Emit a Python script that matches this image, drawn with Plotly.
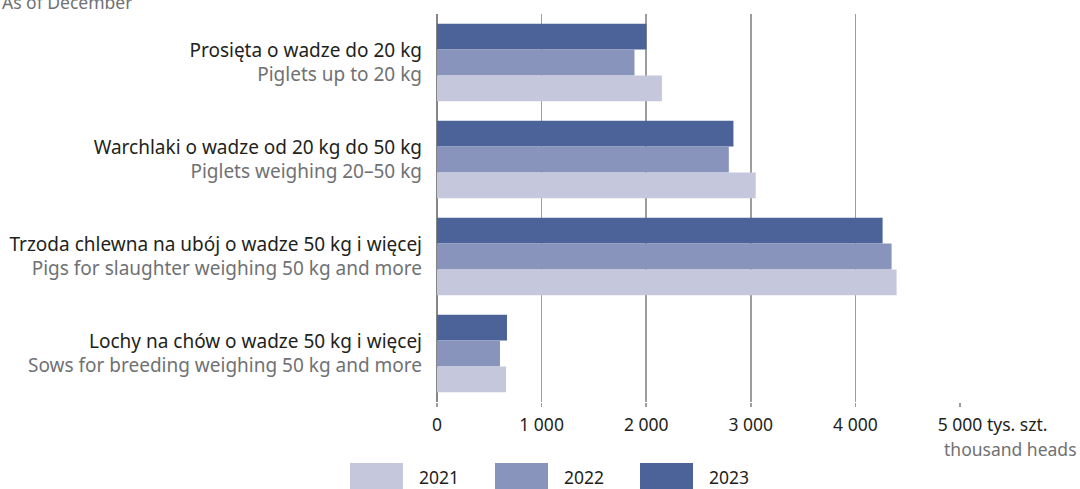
import plotly.graph_objects as go

categories_pl = ["Prosięta o wadze do 20 kg",
                 "Warchlaki o wadze od 20 kg do 50 kg",
                 "Trzoda chlewna na ubój o wadze 50 kg i więcej",
                 "Lochy na chów o wadze 50 kg i więcej"]
categories_en = ["Piglets up to 20 kg",
                 "Piglets weighing 20–50 kg",
                 "Pigs for slaughter weighing 50 kg and more",
                 "Sows for breeding weighing 50 kg and more"]
years = ["2021", "2022", "2023"]
values_2021 = [2150, 3047, 4394, 660]
values_2022 = [1888, 2790, 4346, 602]
values_2023 = [2003, 2834, 4260, 669]
tick_vals = [0, 1000, 2000, 3000, 4000, 5000]
tick_text = ["0", "1 000", "2 000", "3 000", "4 000", "5 000"]

colors = {"2021": "#C5C8DD", "2022": "#8894BC", "2023": "#4B6399"}
series = {"2021": values_2021, "2022": values_2022, "2023": values_2023}

W, H = 1080, 489
L, R, T, B = 437, 120, 14, 87
pw, ph = W - L - R, H - T - B
def px(x):
    return (x - L) / pw
def py(y):
    return (H - B - y) / ph

FONT = "Noto Sans"
GRAY = "#707174"
BLACK = "#231F20"

labels = [f"{p}<br><span style='color:{GRAY}'>{e}</span>" for p, e in zip(categories_pl, categories_en)]

fig = go.Figure()
for yr in ["2023", "2022", "2021"]:
    fig.add_trace(go.Bar(y=labels, x=series[yr], orientation="h", name=yr,
                         marker=dict(color=colors[yr], line=dict(width=0)),
                         showlegend=False))

fig.update_layout(
    width=W, height=H, margin=dict(l=L, r=R, t=T, b=B, autoexpand=False),
    paper_bgcolor="white", plot_bgcolor="white",
    barmode="group", bargap=0.2, bargroupgap=0,
    font=dict(family=FONT, size=17, color=BLACK),
    xaxis=dict(range=[0, 5000], tickvals=tick_vals, ticktext=tick_text,
               showgrid=True, gridcolor="#9D9D9D", gridwidth=1.5,
               zeroline=True, zerolinecolor="#858585", zerolinewidth=2.5,
               ticks="outside", ticklen=4, tickcolor="#9D9D9D", tickwidth=1.5,
               ticklabelstandoff=3, tickfont=dict(size=17.5, color=BLACK),
               showline=False, fixedrange=True, automargin=False),
    yaxis=dict(autorange="reversed", showgrid=False, ticks="",
               ticklabelstandoff=14, tickfont=dict(size=19, color=BLACK),
               showline=False, fixedrange=True, automargin=False),
)

anns = [
    dict(x=px(0), y=py(2), xanchor="left", yanchor="middle", text="As of December",
         font=dict(size=17.5, color=GRAY)),
    dict(x=px(985), y=py(424), xanchor="left", yanchor="middle", text="tys. szt.",
         font=dict(size=17.5, color=BLACK)),
    dict(x=px(1079), y=py(449), xanchor="right", yanchor="middle", text="thousand heads",
         font=dict(size=17.5, color=GRAY)),
]
legend_x = {"2021": 350, "2022": 495, "2023": 640}
shapes = []
for yr in years:
    x0 = legend_x[yr]
    shapes.append(dict(type="rect", xref="paper", yref="paper",
                       x0=px(x0), x1=px(x0 + 53), y0=py(490), y1=py(463),
                       fillcolor=colors[yr], line=dict(width=0)))
    anns.append(dict(x=px(x0 + 67), y=py(477), xanchor="left", yanchor="middle", text=yr,
                     font=dict(size=17.5, color=BLACK)))
for a in anns:
    a.update(xref="paper", yref="paper", showarrow=False)
fig.update_layout(annotations=anns, shapes=shapes)

fig.write_html("out.html", config={"displayModeBar": False, "staticPlot": True})
with open("out.html", encoding="utf-8") as f:
    html = f.read()
html = html.replace("<body>", "<body style=\"margin:0;padding:0;overflow:hidden\">", 1)
html = html.replace("<head>", "<head><style>html,body{margin:0;padding:0;overflow:hidden}</style>", 1)
with open("out.html", "w", encoding="utf-8") as f:
    f.write(html)
